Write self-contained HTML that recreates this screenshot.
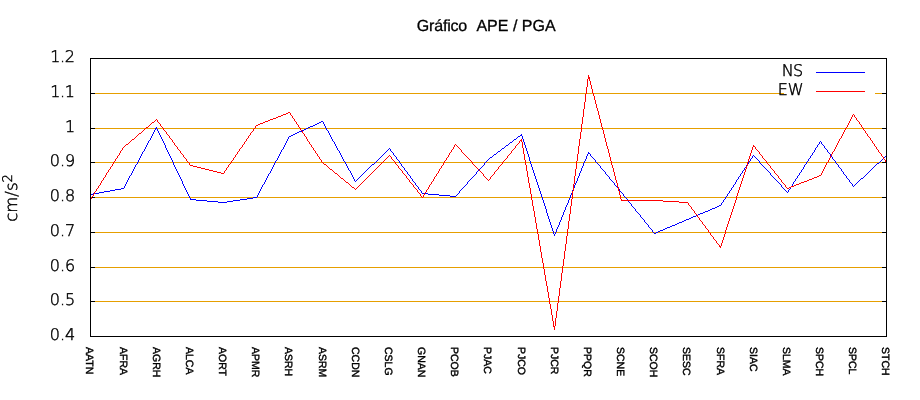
<!DOCTYPE html>
<html lang="pt"><head><meta charset="utf-8"><title>Gráfico APE / PGA</title>
<style>
html,body{margin:0;padding:0;background:#fff;}
body{width:920px;height:400px;overflow:hidden;}
svg{display:block;will-change:transform;transform:translateZ(0);}
text{text-rendering:geometricPrecision;}
.tk{font-family:"DejaVu Sans Light","DejaVu Sans",sans-serif;font-weight:200;font-size:16px;fill:#000;stroke:#000;stroke-width:0.45px;}
.ttl{font-family:"Liberation Sans",sans-serif;font-size:16px;fill:#000;stroke:#000;stroke-width:0.3px;white-space:pre;}
.xl{font-family:"Liberation Sans",sans-serif;font-size:10.5px;fill:#000;stroke:#000;stroke-width:0.4px;}
</style></head><body>
<svg width="920" height="400" viewBox="0 0 920 400">
<rect width="920" height="400" fill="#fff"/>
<g shape-rendering="crispEdges" fill="none" stroke-width="1">
<line x1="95" y1="301.5" x2="882" y2="301.5" stroke="#e69f00"/>
<line x1="95" y1="267.5" x2="882" y2="267.5" stroke="#e69f00"/>
<line x1="95" y1="232.5" x2="882" y2="232.5" stroke="#e69f00"/>
<line x1="95" y1="197.5" x2="882" y2="197.5" stroke="#e69f00"/>
<line x1="95" y1="162.5" x2="882" y2="162.5" stroke="#e69f00"/>
<line x1="95" y1="128.5" x2="882" y2="128.5" stroke="#e69f00"/>
<line x1="95" y1="93.5" x2="882" y2="93.5" stroke="#e69f00"/>
</g>
<rect x="784" y="62" width="91" height="40" fill="#fff"/>
<g shape-rendering="crispEdges" fill="none" stroke-width="1">
<line x1="90" y1="336.5" x2="95" y2="336.5" stroke="#000"/>
<line x1="882" y1="336.5" x2="886" y2="336.5" stroke="#000"/>
<line x1="90" y1="301.5" x2="95" y2="301.5" stroke="#000"/>
<line x1="882" y1="301.5" x2="886" y2="301.5" stroke="#000"/>
<line x1="90" y1="267.5" x2="95" y2="267.5" stroke="#000"/>
<line x1="882" y1="267.5" x2="886" y2="267.5" stroke="#000"/>
<line x1="90" y1="232.5" x2="95" y2="232.5" stroke="#000"/>
<line x1="882" y1="232.5" x2="886" y2="232.5" stroke="#000"/>
<line x1="90" y1="197.5" x2="95" y2="197.5" stroke="#000"/>
<line x1="882" y1="197.5" x2="886" y2="197.5" stroke="#000"/>
<line x1="90" y1="162.5" x2="95" y2="162.5" stroke="#000"/>
<line x1="882" y1="162.5" x2="886" y2="162.5" stroke="#000"/>
<line x1="90" y1="128.5" x2="95" y2="128.5" stroke="#000"/>
<line x1="882" y1="128.5" x2="886" y2="128.5" stroke="#000"/>
<line x1="90" y1="93.5" x2="95" y2="93.5" stroke="#000"/>
<line x1="882" y1="93.5" x2="886" y2="93.5" stroke="#000"/>
<line x1="90" y1="58.5" x2="95" y2="58.5" stroke="#000"/>
<line x1="882" y1="58.5" x2="886" y2="58.5" stroke="#000"/>
<path d="M321 121.5h2M319 122.5h2M323 122.5h1M317 123.5h2M323 123.5h1M315 124.5h2M324 124.5h1M313 125.5h2M324 125.5h1M310 126.5h3M325 126.5h1M156 127.5h1M308 127.5h2M325 127.5h1M155 128.5h2M306 128.5h2M326 128.5h1M155 129.5h1M157 129.5h1M304 129.5h2M326 129.5h1M154 130.5h1M157 130.5h1M302 130.5h2M327 130.5h1M154 131.5h1M158 131.5h1M299 131.5h3M328 131.5h1M153 132.5h1M158 132.5h1M297 132.5h2M328 132.5h1M153 133.5h1M159 133.5h1M295 133.5h2M329 133.5h1M152 134.5h1M159 134.5h1M293 134.5h2M329 134.5h1M521 134.5h1M152 135.5h1M160 135.5h1M291 135.5h2M330 135.5h1M520 135.5h2M151 136.5h1M160 136.5h1M289 136.5h2M330 136.5h1M518 136.5h2M522 136.5h1M151 137.5h1M161 137.5h1M288 137.5h1M331 137.5h1M517 137.5h1M522 137.5h1M150 138.5h1M161 138.5h1M288 138.5h1M331 138.5h1M516 138.5h1M522 138.5h1M150 139.5h1M162 139.5h1M287 139.5h1M332 139.5h1M514 139.5h2M523 139.5h1M149 140.5h1M162 140.5h1M287 140.5h1M332 140.5h1M513 140.5h1M523 140.5h1M148 141.5h1M163 141.5h1M286 141.5h1M333 141.5h1M512 141.5h1M523 141.5h1M820 141.5h1M148 142.5h1M163 142.5h1M286 142.5h1M334 142.5h1M510 142.5h2M524 142.5h1M819 142.5h1M821 142.5h1M147 143.5h1M164 143.5h1M285 143.5h1M334 143.5h1M509 143.5h1M524 143.5h1M819 143.5h1M821 143.5h1M147 144.5h1M164 144.5h1M285 144.5h1M335 144.5h1M508 144.5h1M524 144.5h1M818 144.5h1M822 144.5h1M146 145.5h1M165 145.5h1M284 145.5h1M335 145.5h1M506 145.5h2M525 145.5h1M817 145.5h1M823 145.5h1M146 146.5h1M165 146.5h1M284 146.5h1M336 146.5h1M505 146.5h1M525 146.5h1M817 146.5h1M824 146.5h1M145 147.5h1M165 147.5h1M283 147.5h1M336 147.5h1M504 147.5h1M525 147.5h1M816 147.5h1M824 147.5h1M145 148.5h1M166 148.5h1M283 148.5h1M337 148.5h1M389 148.5h1M502 148.5h2M526 148.5h1M815 148.5h1M825 148.5h1M144 149.5h1M166 149.5h1M282 149.5h1M337 149.5h1M388 149.5h1M390 149.5h1M501 149.5h1M526 149.5h1M815 149.5h1M826 149.5h1M144 150.5h1M167 150.5h1M281 150.5h1M338 150.5h1M387 150.5h1M390 150.5h1M500 150.5h1M526 150.5h1M814 150.5h1M827 150.5h1M143 151.5h1M167 151.5h1M281 151.5h1M339 151.5h1M386 151.5h1M391 151.5h1M498 151.5h2M527 151.5h1M814 151.5h1M827 151.5h1M142 152.5h1M168 152.5h1M280 152.5h1M339 152.5h1M385 152.5h1M392 152.5h1M497 152.5h1M527 152.5h1M588 152.5h1M813 152.5h1M828 152.5h1M142 153.5h1M168 153.5h1M280 153.5h1M340 153.5h1M384 153.5h1M393 153.5h1M496 153.5h1M527 153.5h1M588 153.5h2M812 153.5h1M829 153.5h1M141 154.5h1M169 154.5h1M279 154.5h1M340 154.5h1M383 154.5h1M393 154.5h1M494 154.5h2M528 154.5h1M587 154.5h1M590 154.5h1M812 154.5h1M830 154.5h1M141 155.5h1M169 155.5h1M279 155.5h1M341 155.5h1M382 155.5h1M394 155.5h1M493 155.5h1M528 155.5h1M587 155.5h1M590 155.5h1M753 155.5h1M811 155.5h1M830 155.5h1M886 155.5h1M140 156.5h1M170 156.5h1M278 156.5h1M341 156.5h1M381 156.5h1M395 156.5h1M492 156.5h1M528 156.5h1M586 156.5h1M591 156.5h1M752 156.5h1M754 156.5h1M810 156.5h1M831 156.5h1M885 156.5h1M140 157.5h1M170 157.5h1M278 157.5h1M342 157.5h1M380 157.5h1M396 157.5h1M490 157.5h2M529 157.5h1M586 157.5h1M592 157.5h1M752 157.5h1M755 157.5h1M810 157.5h1M832 157.5h1M884 157.5h1M139 158.5h1M171 158.5h1M277 158.5h1M342 158.5h1M379 158.5h1M396 158.5h1M489 158.5h1M529 158.5h1M586 158.5h1M593 158.5h1M751 158.5h1M756 158.5h1M809 158.5h1M832 158.5h1M883 158.5h1M139 159.5h1M171 159.5h1M277 159.5h1M343 159.5h1M378 159.5h1M397 159.5h1M488 159.5h1M529 159.5h1M585 159.5h1M594 159.5h1M750 159.5h1M757 159.5h1M808 159.5h1M833 159.5h1M882 159.5h1M138 160.5h1M172 160.5h1M276 160.5h1M343 160.5h1M377 160.5h1M398 160.5h1M487 160.5h1M529 160.5h1M585 160.5h1M595 160.5h1M750 160.5h1M758 160.5h1M808 160.5h1M834 160.5h1M881 160.5h1M138 161.5h1M172 161.5h1M275 161.5h1M344 161.5h1M376 161.5h1M399 161.5h1M486 161.5h1M530 161.5h1M584 161.5h1M595 161.5h1M749 161.5h1M759 161.5h1M807 161.5h1M835 161.5h1M880 161.5h1M137 162.5h1M173 162.5h1M275 162.5h1M345 162.5h1M375 162.5h1M399 162.5h1M485 162.5h1M530 162.5h1M584 162.5h1M596 162.5h1M748 162.5h1M759 162.5h1M806 162.5h1M835 162.5h1M879 162.5h1M137 163.5h1M173 163.5h1M274 163.5h1M345 163.5h1M374 163.5h1M400 163.5h1M484 163.5h1M530 163.5h1M583 163.5h1M597 163.5h1M748 163.5h1M760 163.5h1M806 163.5h1M836 163.5h1M877 163.5h2M136 164.5h1M173 164.5h1M274 164.5h1M346 164.5h1M372 164.5h2M401 164.5h1M484 164.5h1M531 164.5h1M583 164.5h1M598 164.5h1M747 164.5h1M761 164.5h1M805 164.5h1M837 164.5h1M876 164.5h1M135 165.5h1M174 165.5h1M273 165.5h1M346 165.5h1M371 165.5h1M401 165.5h1M483 165.5h1M531 165.5h1M583 165.5h1M599 165.5h1M746 165.5h1M762 165.5h1M804 165.5h1M838 165.5h1M875 165.5h1M135 166.5h1M174 166.5h1M273 166.5h1M347 166.5h1M370 166.5h1M402 166.5h1M482 166.5h1M531 166.5h1M582 166.5h1M600 166.5h1M746 166.5h1M763 166.5h1M804 166.5h1M838 166.5h1M874 166.5h1M134 167.5h1M175 167.5h1M272 167.5h1M347 167.5h1M369 167.5h1M403 167.5h1M481 167.5h1M532 167.5h1M582 167.5h1M600 167.5h1M745 167.5h1M764 167.5h1M803 167.5h1M839 167.5h1M873 167.5h1M134 168.5h1M175 168.5h1M272 168.5h1M348 168.5h1M368 168.5h1M404 168.5h1M480 168.5h1M532 168.5h1M581 168.5h1M601 168.5h1M744 168.5h1M765 168.5h1M803 168.5h1M840 168.5h1M872 168.5h1M133 169.5h1M176 169.5h1M271 169.5h1M348 169.5h1M367 169.5h1M404 169.5h1M479 169.5h1M532 169.5h1M581 169.5h1M602 169.5h1M744 169.5h1M766 169.5h1M802 169.5h1M841 169.5h1M871 169.5h1M133 170.5h1M176 170.5h1M271 170.5h1M349 170.5h1M366 170.5h1M405 170.5h1M478 170.5h1M533 170.5h1M581 170.5h1M603 170.5h1M743 170.5h1M767 170.5h1M801 170.5h1M841 170.5h1M870 170.5h1M132 171.5h1M177 171.5h1M270 171.5h1M350 171.5h1M365 171.5h1M406 171.5h1M477 171.5h1M533 171.5h1M580 171.5h1M604 171.5h1M742 171.5h1M768 171.5h1M801 171.5h1M842 171.5h1M869 171.5h1M132 172.5h1M177 172.5h1M270 172.5h1M350 172.5h1M364 172.5h1M407 172.5h1M476 172.5h1M533 172.5h1M580 172.5h1M605 172.5h1M742 172.5h1M769 172.5h1M800 172.5h1M843 172.5h1M868 172.5h1M131 173.5h1M178 173.5h1M269 173.5h1M351 173.5h1M363 173.5h1M407 173.5h1M476 173.5h1M534 173.5h1M579 173.5h1M605 173.5h1M741 173.5h1M770 173.5h1M799 173.5h1M843 173.5h1M867 173.5h1M131 174.5h1M178 174.5h1M268 174.5h1M351 174.5h1M362 174.5h1M408 174.5h1M475 174.5h1M534 174.5h1M579 174.5h1M606 174.5h1M740 174.5h1M770 174.5h1M799 174.5h1M844 174.5h1M866 174.5h1M130 175.5h1M179 175.5h1M268 175.5h1M352 175.5h1M361 175.5h1M409 175.5h1M474 175.5h1M534 175.5h1M579 175.5h1M607 175.5h1M740 175.5h1M771 175.5h1M798 175.5h1M845 175.5h1M865 175.5h1M129 176.5h1M179 176.5h1M267 176.5h1M352 176.5h1M360 176.5h1M410 176.5h1M473 176.5h1M535 176.5h1M578 176.5h1M608 176.5h1M739 176.5h1M772 176.5h1M797 176.5h1M846 176.5h1M864 176.5h1M129 177.5h1M180 177.5h1M267 177.5h1M353 177.5h1M359 177.5h1M410 177.5h1M472 177.5h1M535 177.5h1M578 177.5h1M609 177.5h1M738 177.5h1M773 177.5h1M797 177.5h1M846 177.5h1M863 177.5h1M128 178.5h1M180 178.5h1M266 178.5h1M353 178.5h1M358 178.5h1M411 178.5h1M471 178.5h1M535 178.5h1M577 178.5h1M609 178.5h1M738 178.5h1M774 178.5h1M796 178.5h1M847 178.5h1M861 178.5h2M128 179.5h1M181 179.5h1M266 179.5h1M354 179.5h1M357 179.5h1M412 179.5h1M470 179.5h1M536 179.5h1M577 179.5h1M610 179.5h1M737 179.5h1M775 179.5h1M795 179.5h1M848 179.5h1M860 179.5h1M127 180.5h1M181 180.5h1M265 180.5h1M354 180.5h1M356 180.5h1M412 180.5h1M469 180.5h1M536 180.5h1M577 180.5h1M611 180.5h1M736 180.5h1M776 180.5h1M795 180.5h1M849 180.5h1M859 180.5h1M127 181.5h1M182 181.5h1M265 181.5h1M355 181.5h1M413 181.5h1M468 181.5h1M536 181.5h1M576 181.5h1M612 181.5h1M736 181.5h1M777 181.5h1M794 181.5h1M849 181.5h1M858 181.5h1M126 182.5h1M182 182.5h1M264 182.5h1M414 182.5h1M467 182.5h1M537 182.5h1M576 182.5h1M613 182.5h1M735 182.5h1M778 182.5h1M793 182.5h1M850 182.5h1M857 182.5h1M126 183.5h1M182 183.5h1M264 183.5h1M415 183.5h1M467 183.5h1M537 183.5h1M575 183.5h1M614 183.5h1M735 183.5h1M779 183.5h1M793 183.5h1M851 183.5h1M856 183.5h1M125 184.5h1M183 184.5h1M263 184.5h1M415 184.5h1M466 184.5h1M537 184.5h1M575 184.5h1M614 184.5h1M734 184.5h1M780 184.5h1M792 184.5h1M852 184.5h1M855 184.5h1M125 185.5h1M183 185.5h1M262 185.5h1M416 185.5h1M465 185.5h1M538 185.5h1M574 185.5h1M615 185.5h1M733 185.5h1M781 185.5h1M792 185.5h1M852 185.5h1M854 185.5h1M124 186.5h1M184 186.5h1M262 186.5h1M417 186.5h1M464 186.5h1M538 186.5h1M574 186.5h1M616 186.5h1M733 186.5h1M781 186.5h1M791 186.5h1M853 186.5h1M124 187.5h1M184 187.5h1M261 187.5h1M418 187.5h1M463 187.5h1M538 187.5h1M574 187.5h1M617 187.5h1M732 187.5h1M782 187.5h1M790 187.5h1M121 188.5h3M185 188.5h1M261 188.5h1M418 188.5h1M462 188.5h1M539 188.5h1M573 188.5h1M618 188.5h1M731 188.5h1M783 188.5h1M790 188.5h1M115 189.5h6M185 189.5h1M260 189.5h1M419 189.5h1M461 189.5h1M539 189.5h1M573 189.5h1M619 189.5h1M731 189.5h1M784 189.5h1M789 189.5h1M110 190.5h5M186 190.5h1M260 190.5h1M420 190.5h1M460 190.5h1M539 190.5h1M572 190.5h1M619 190.5h1M730 190.5h1M785 190.5h1M788 190.5h1M104 191.5h6M186 191.5h1M259 191.5h1M421 191.5h1M459 191.5h1M540 191.5h1M572 191.5h1M620 191.5h1M729 191.5h1M786 191.5h1M788 191.5h1M99 192.5h5M187 192.5h1M259 192.5h1M421 192.5h1M459 192.5h1M540 192.5h1M572 192.5h1M621 192.5h1M729 192.5h1M787 192.5h1M93 193.5h6M187 193.5h1M258 193.5h1M422 193.5h6M458 193.5h1M540 193.5h1M571 193.5h1M622 193.5h1M728 193.5h1M90 194.5h3M188 194.5h1M258 194.5h1M428 194.5h11M457 194.5h1M541 194.5h1M571 194.5h1M623 194.5h1M727 194.5h1M188 195.5h1M257 195.5h1M439 195.5h11M456 195.5h1M541 195.5h1M570 195.5h1M623 195.5h1M727 195.5h1M189 196.5h1M257 196.5h1M450 196.5h6M541 196.5h1M570 196.5h1M624 196.5h1M726 196.5h1M189 197.5h1M253 197.5h4M542 197.5h1M570 197.5h1M625 197.5h1M725 197.5h1M190 198.5h1M247 198.5h6M542 198.5h1M569 198.5h1M626 198.5h1M725 198.5h1M190 199.5h6M240 199.5h7M542 199.5h1M569 199.5h1M627 199.5h1M724 199.5h1M196 200.5h11M233 200.5h7M543 200.5h1M568 200.5h1M627 200.5h1M723 200.5h1M207 201.5h11M227 201.5h6M543 201.5h1M568 201.5h1M628 201.5h1M723 201.5h1M218 202.5h9M543 202.5h1M568 202.5h1M629 202.5h1M722 202.5h1M544 203.5h1M567 203.5h1M630 203.5h1M721 203.5h1M544 204.5h1M567 204.5h1M631 204.5h1M721 204.5h1M544 205.5h1M566 205.5h1M631 205.5h1M719 205.5h2M545 206.5h1M566 206.5h1M632 206.5h1M717 206.5h2M545 207.5h1M565 207.5h1M633 207.5h1M715 207.5h2M545 208.5h1M565 208.5h1M634 208.5h1M712 208.5h3M546 209.5h1M565 209.5h1M635 209.5h1M710 209.5h2M546 210.5h1M564 210.5h1M635 210.5h1M708 210.5h2M546 211.5h1M564 211.5h1M636 211.5h1M705 211.5h3M546 212.5h1M563 212.5h1M637 212.5h1M703 212.5h2M547 213.5h1M563 213.5h1M638 213.5h1M700 213.5h3M547 214.5h1M563 214.5h1M639 214.5h1M698 214.5h2M547 215.5h1M562 215.5h1M640 215.5h1M696 215.5h2M548 216.5h1M562 216.5h1M640 216.5h1M693 216.5h3M548 217.5h1M561 217.5h1M641 217.5h1M691 217.5h2M548 218.5h1M561 218.5h1M642 218.5h1M689 218.5h2M549 219.5h1M561 219.5h1M643 219.5h1M686 219.5h3M549 220.5h1M560 220.5h1M644 220.5h1M684 220.5h2M549 221.5h1M560 221.5h1M644 221.5h1M682 221.5h2M550 222.5h1M559 222.5h1M645 222.5h1M679 222.5h3M550 223.5h1M559 223.5h1M646 223.5h1M677 223.5h2M550 224.5h1M559 224.5h1M647 224.5h1M675 224.5h2M551 225.5h1M558 225.5h1M648 225.5h1M672 225.5h3M551 226.5h1M558 226.5h1M648 226.5h1M670 226.5h2M551 227.5h1M557 227.5h1M649 227.5h1M667 227.5h3M552 228.5h1M557 228.5h1M650 228.5h1M665 228.5h2M552 229.5h1M556 229.5h1M651 229.5h1M663 229.5h2M552 230.5h1M556 230.5h1M652 230.5h1M660 230.5h3M553 231.5h1M556 231.5h1M652 231.5h1M658 231.5h2M553 232.5h1M555 232.5h1M653 232.5h1M656 232.5h2M553 233.5h1M555 233.5h1M654 233.5h2M554 234.5h1M554 235.5h1" stroke="#0000ff"/>
<path d="M588 75.5h1M588 76.5h1M588 77.5h2M588 78.5h2M587 79.5h1M589 79.5h1M587 80.5h1M589 80.5h1M587 81.5h1M590 81.5h1M587 82.5h1M590 82.5h1M587 83.5h1M590 83.5h1M587 84.5h1M590 84.5h1M587 85.5h1M591 85.5h1M587 86.5h1M591 86.5h1M586 87.5h1M591 87.5h1M586 88.5h1M591 88.5h1M586 89.5h1M592 89.5h1M586 90.5h1M592 90.5h1M586 91.5h1M592 91.5h1M586 92.5h1M592 92.5h1M586 93.5h1M593 93.5h1M585 94.5h1M593 94.5h1M585 95.5h1M593 95.5h1M585 96.5h1M594 96.5h1M585 97.5h1M594 97.5h1M585 98.5h1M594 98.5h1M585 99.5h1M594 99.5h1M585 100.5h1M595 100.5h1M585 101.5h1M595 101.5h1M584 102.5h1M595 102.5h1M584 103.5h1M595 103.5h1M584 104.5h1M596 104.5h1M584 105.5h1M596 105.5h1M584 106.5h1M596 106.5h1M584 107.5h1M596 107.5h1M584 108.5h1M597 108.5h1M583 109.5h1M597 109.5h1M583 110.5h1M597 110.5h1M583 111.5h1M598 111.5h1M288 112.5h2M583 112.5h1M598 112.5h1M286 113.5h2M290 113.5h1M583 113.5h1M598 113.5h1M283 114.5h3M290 114.5h1M583 114.5h1M598 114.5h1M853 114.5h1M281 115.5h2M291 115.5h1M583 115.5h1M599 115.5h1M852 115.5h1M854 115.5h1M278 116.5h3M292 116.5h1M583 116.5h1M599 116.5h1M852 116.5h1M854 116.5h1M276 117.5h2M292 117.5h1M582 117.5h1M599 117.5h1M851 117.5h1M855 117.5h1M273 118.5h3M293 118.5h1M582 118.5h1M599 118.5h1M851 118.5h1M856 118.5h1M156 119.5h1M270 119.5h3M294 119.5h1M582 119.5h1M600 119.5h1M850 119.5h1M856 119.5h1M155 120.5h1M157 120.5h1M268 120.5h2M294 120.5h1M582 120.5h1M600 120.5h1M850 120.5h1M857 120.5h1M154 121.5h1M157 121.5h1M265 121.5h3M295 121.5h1M582 121.5h1M600 121.5h1M849 121.5h1M858 121.5h1M152 122.5h2M158 122.5h1M263 122.5h2M296 122.5h1M582 122.5h1M600 122.5h1M849 122.5h1M859 122.5h1M151 123.5h1M159 123.5h1M260 123.5h3M296 123.5h1M582 123.5h1M601 123.5h1M848 123.5h1M859 123.5h1M150 124.5h1M160 124.5h1M258 124.5h2M297 124.5h1M581 124.5h1M601 124.5h1M848 124.5h1M860 124.5h1M149 125.5h1M160 125.5h1M256 125.5h2M298 125.5h1M581 125.5h1M601 125.5h1M847 125.5h1M861 125.5h1M148 126.5h1M161 126.5h1M255 126.5h1M298 126.5h1M581 126.5h1M601 126.5h1M847 126.5h1M861 126.5h1M146 127.5h2M162 127.5h1M255 127.5h1M299 127.5h1M581 127.5h1M602 127.5h1M846 127.5h1M862 127.5h1M145 128.5h1M163 128.5h1M254 128.5h1M300 128.5h1M581 128.5h1M602 128.5h1M845 128.5h1M863 128.5h1M144 129.5h1M163 129.5h1M253 129.5h1M300 129.5h1M581 129.5h1M602 129.5h1M845 129.5h1M863 129.5h1M143 130.5h1M164 130.5h1M253 130.5h1M301 130.5h1M581 130.5h1M603 130.5h1M844 130.5h1M864 130.5h1M142 131.5h1M165 131.5h1M252 131.5h1M302 131.5h1M581 131.5h1M603 131.5h1M844 131.5h1M865 131.5h1M141 132.5h1M166 132.5h1M251 132.5h1M302 132.5h1M580 132.5h1M603 132.5h1M843 132.5h1M865 132.5h1M139 133.5h2M166 133.5h1M250 133.5h1M303 133.5h1M580 133.5h1M603 133.5h1M843 133.5h1M866 133.5h1M138 134.5h1M167 134.5h1M250 134.5h1M304 134.5h1M580 134.5h1M604 134.5h1M842 134.5h1M867 134.5h1M137 135.5h1M168 135.5h1M249 135.5h1M304 135.5h1M580 135.5h1M604 135.5h1M842 135.5h1M867 135.5h1M136 136.5h1M169 136.5h1M248 136.5h1M305 136.5h1M580 136.5h1M604 136.5h1M841 136.5h1M868 136.5h1M135 137.5h1M169 137.5h1M248 137.5h1M306 137.5h1M580 137.5h1M604 137.5h1M841 137.5h1M869 137.5h1M134 138.5h1M170 138.5h1M247 138.5h1M306 138.5h1M580 138.5h1M605 138.5h1M840 138.5h1M870 138.5h1M132 139.5h2M171 139.5h1M246 139.5h1M307 139.5h1M521 139.5h1M579 139.5h1M605 139.5h1M839 139.5h1M870 139.5h1M131 140.5h1M172 140.5h1M246 140.5h1M307 140.5h1M520 140.5h2M579 140.5h1M605 140.5h1M839 140.5h1M871 140.5h1M130 141.5h1M172 141.5h1M245 141.5h1M308 141.5h1M519 141.5h1M521 141.5h1M579 141.5h1M605 141.5h1M838 141.5h1M872 141.5h1M129 142.5h1M173 142.5h1M244 142.5h1M309 142.5h1M519 142.5h1M522 142.5h1M579 142.5h1M606 142.5h1M838 142.5h1M872 142.5h1M128 143.5h1M174 143.5h1M244 143.5h1M309 143.5h1M518 143.5h1M522 143.5h1M579 143.5h1M606 143.5h1M837 143.5h1M873 143.5h1M126 144.5h2M174 144.5h1M243 144.5h1M310 144.5h1M455 144.5h1M517 144.5h1M522 144.5h1M579 144.5h1M606 144.5h1M837 144.5h1M874 144.5h1M125 145.5h1M175 145.5h1M242 145.5h1M311 145.5h1M454 145.5h1M456 145.5h1M516 145.5h1M522 145.5h1M579 145.5h1M606 145.5h1M753 145.5h1M836 145.5h1M874 145.5h1M124 146.5h1M176 146.5h1M242 146.5h1M311 146.5h1M454 146.5h1M457 146.5h1M515 146.5h1M522 146.5h1M578 146.5h1M607 146.5h1M753 146.5h2M836 146.5h1M875 146.5h1M123 147.5h1M177 147.5h1M241 147.5h1M312 147.5h1M453 147.5h1M458 147.5h1M515 147.5h1M522 147.5h1M578 147.5h1M607 147.5h1M752 147.5h1M755 147.5h1M835 147.5h1M876 147.5h1M122 148.5h1M177 148.5h1M240 148.5h1M313 148.5h1M453 148.5h1M459 148.5h1M514 148.5h1M523 148.5h1M578 148.5h1M607 148.5h1M752 148.5h1M755 148.5h1M835 148.5h1M876 148.5h1M122 149.5h1M178 149.5h1M239 149.5h1M313 149.5h1M452 149.5h1M460 149.5h1M513 149.5h1M523 149.5h1M578 149.5h1M608 149.5h1M752 149.5h1M756 149.5h1M834 149.5h1M877 149.5h1M121 150.5h1M179 150.5h1M239 150.5h1M314 150.5h1M451 150.5h1M461 150.5h1M512 150.5h1M523 150.5h1M578 150.5h1M608 150.5h1M751 150.5h1M757 150.5h1M834 150.5h1M878 150.5h1M120 151.5h1M180 151.5h1M238 151.5h1M315 151.5h1M451 151.5h1M461 151.5h1M511 151.5h1M523 151.5h1M578 151.5h1M608 151.5h1M751 151.5h1M758 151.5h1M833 151.5h1M878 151.5h1M120 152.5h1M180 152.5h1M237 152.5h1M315 152.5h1M450 152.5h1M462 152.5h1M511 152.5h1M523 152.5h1M578 152.5h1M608 152.5h1M751 152.5h1M759 152.5h1M832 152.5h1M879 152.5h1M119 153.5h1M181 153.5h1M237 153.5h1M316 153.5h1M449 153.5h1M463 153.5h1M510 153.5h1M523 153.5h1M578 153.5h1M609 153.5h1M750 153.5h1M759 153.5h1M832 153.5h1M880 153.5h1M119 154.5h1M182 154.5h1M236 154.5h1M317 154.5h1M449 154.5h1M464 154.5h1M509 154.5h1M524 154.5h1M577 154.5h1M609 154.5h1M750 154.5h1M760 154.5h1M831 154.5h1M881 154.5h1M118 155.5h1M183 155.5h1M235 155.5h1M317 155.5h1M389 155.5h1M448 155.5h1M465 155.5h1M508 155.5h1M524 155.5h1M577 155.5h1M609 155.5h1M750 155.5h1M761 155.5h1M831 155.5h1M881 155.5h1M117 156.5h1M183 156.5h1M235 156.5h1M318 156.5h1M388 156.5h1M390 156.5h1M448 156.5h1M466 156.5h1M507 156.5h1M524 156.5h1M577 156.5h1M609 156.5h1M749 156.5h1M762 156.5h1M830 156.5h1M882 156.5h1M117 157.5h1M184 157.5h1M234 157.5h1M319 157.5h1M387 157.5h1M391 157.5h1M447 157.5h1M467 157.5h1M507 157.5h1M524 157.5h1M577 157.5h1M610 157.5h1M749 157.5h1M762 157.5h1M830 157.5h1M883 157.5h1M116 158.5h1M185 158.5h1M233 158.5h1M319 158.5h1M386 158.5h1M391 158.5h1M446 158.5h1M468 158.5h1M506 158.5h1M524 158.5h1M577 158.5h1M610 158.5h1M749 158.5h1M763 158.5h1M829 158.5h1M883 158.5h1M115 159.5h1M186 159.5h1M233 159.5h1M320 159.5h1M385 159.5h1M392 159.5h1M446 159.5h1M469 159.5h1M505 159.5h1M524 159.5h1M577 159.5h1M610 159.5h1M748 159.5h1M764 159.5h1M829 159.5h1M884 159.5h1M115 160.5h1M186 160.5h1M232 160.5h1M321 160.5h1M384 160.5h1M393 160.5h1M445 160.5h1M470 160.5h1M504 160.5h1M525 160.5h1M577 160.5h1M610 160.5h1M748 160.5h1M765 160.5h1M828 160.5h1M885 160.5h1M114 161.5h1M187 161.5h1M231 161.5h1M321 161.5h1M383 161.5h1M394 161.5h1M444 161.5h1M471 161.5h1M503 161.5h1M525 161.5h1M576 161.5h1M611 161.5h1M748 161.5h1M766 161.5h1M828 161.5h1M885 161.5h1M113 162.5h1M188 162.5h1M231 162.5h1M322 162.5h1M382 162.5h1M395 162.5h1M444 162.5h1M472 162.5h1M502 162.5h1M525 162.5h1M576 162.5h1M611 162.5h1M747 162.5h1M766 162.5h1M827 162.5h1M886 162.5h1M113 163.5h1M189 163.5h1M230 163.5h1M323 163.5h1M381 163.5h1M395 163.5h1M443 163.5h1M472 163.5h1M502 163.5h1M525 163.5h1M576 163.5h1M611 163.5h1M747 163.5h1M767 163.5h1M826 163.5h1M112 164.5h1M189 164.5h1M229 164.5h1M324 164.5h2M380 164.5h1M396 164.5h1M443 164.5h1M473 164.5h1M501 164.5h1M525 164.5h1M576 164.5h1M611 164.5h1M747 164.5h1M768 164.5h1M826 164.5h1M112 165.5h1M190 165.5h3M228 165.5h1M326 165.5h1M379 165.5h1M397 165.5h1M442 165.5h1M474 165.5h1M500 165.5h1M526 165.5h1M576 165.5h1M612 165.5h1M747 165.5h1M769 165.5h1M825 165.5h1M111 166.5h1M193 166.5h4M228 166.5h1M327 166.5h1M378 166.5h1M398 166.5h1M441 166.5h1M475 166.5h1M499 166.5h1M526 166.5h1M576 166.5h1M612 166.5h1M746 166.5h1M770 166.5h1M825 166.5h1M110 167.5h1M197 167.5h4M227 167.5h1M328 167.5h1M377 167.5h1M398 167.5h1M441 167.5h1M476 167.5h1M498 167.5h1M526 167.5h1M576 167.5h1M612 167.5h1M746 167.5h1M770 167.5h1M824 167.5h1M110 168.5h1M201 168.5h4M226 168.5h1M329 168.5h1M376 168.5h1M399 168.5h1M440 168.5h1M477 168.5h1M498 168.5h1M526 168.5h1M576 168.5h1M613 168.5h1M746 168.5h1M771 168.5h1M824 168.5h1M109 169.5h1M205 169.5h4M226 169.5h1M330 169.5h2M375 169.5h1M400 169.5h1M439 169.5h1M478 169.5h1M497 169.5h1M526 169.5h1M575 169.5h1M613 169.5h1M745 169.5h1M772 169.5h1M823 169.5h1M108 170.5h1M209 170.5h4M225 170.5h1M332 170.5h1M374 170.5h1M401 170.5h1M439 170.5h1M479 170.5h1M496 170.5h1M526 170.5h1M575 170.5h1M613 170.5h1M745 170.5h1M773 170.5h1M823 170.5h1M108 171.5h1M213 171.5h4M224 171.5h1M333 171.5h1M373 171.5h1M402 171.5h1M438 171.5h1M480 171.5h1M495 171.5h1M527 171.5h1M575 171.5h1M613 171.5h1M745 171.5h1M774 171.5h1M822 171.5h1M107 172.5h1M217 172.5h4M224 172.5h1M334 172.5h1M372 172.5h1M402 172.5h1M438 172.5h1M481 172.5h1M494 172.5h1M527 172.5h1M575 172.5h1M614 172.5h1M744 172.5h1M774 172.5h1M822 172.5h1M106 173.5h1M221 173.5h3M335 173.5h2M371 173.5h1M403 173.5h1M437 173.5h1M482 173.5h1M494 173.5h1M527 173.5h1M575 173.5h1M614 173.5h1M744 173.5h1M775 173.5h1M821 173.5h1M106 174.5h1M337 174.5h1M370 174.5h1M404 174.5h1M436 174.5h1M483 174.5h1M493 174.5h1M527 174.5h1M575 174.5h1M614 174.5h1M744 174.5h1M776 174.5h1M821 174.5h1M105 175.5h1M338 175.5h1M369 175.5h1M405 175.5h1M436 175.5h1M483 175.5h1M492 175.5h1M527 175.5h1M575 175.5h1M614 175.5h1M743 175.5h1M777 175.5h1M819 175.5h2M105 176.5h1M339 176.5h1M368 176.5h1M406 176.5h1M435 176.5h1M484 176.5h1M491 176.5h1M527 176.5h1M574 176.5h1M615 176.5h1M743 176.5h1M778 176.5h1M817 176.5h2M104 177.5h1M340 177.5h1M367 177.5h1M406 177.5h1M434 177.5h1M485 177.5h1M490 177.5h1M528 177.5h1M574 177.5h1M615 177.5h1M743 177.5h1M778 177.5h1M814 177.5h3M103 178.5h1M341 178.5h2M366 178.5h1M407 178.5h1M434 178.5h1M486 178.5h1M490 178.5h1M528 178.5h1M574 178.5h1M615 178.5h1M742 178.5h1M779 178.5h1M812 178.5h2M103 179.5h1M343 179.5h1M365 179.5h1M408 179.5h1M433 179.5h1M487 179.5h1M489 179.5h1M528 179.5h1M574 179.5h1M615 179.5h1M742 179.5h1M780 179.5h1M809 179.5h3M102 180.5h1M344 180.5h1M364 180.5h1M409 180.5h1M433 180.5h1M488 180.5h1M528 180.5h1M574 180.5h1M616 180.5h1M742 180.5h1M781 180.5h1M807 180.5h2M101 181.5h1M345 181.5h1M363 181.5h1M409 181.5h1M432 181.5h1M528 181.5h1M574 181.5h1M616 181.5h1M741 181.5h1M781 181.5h1M804 181.5h3M101 182.5h1M346 182.5h2M362 182.5h1M410 182.5h1M431 182.5h1M528 182.5h1M574 182.5h1M616 182.5h1M741 182.5h1M782 182.5h1M801 182.5h3M100 183.5h1M348 183.5h1M361 183.5h1M411 183.5h1M431 183.5h1M529 183.5h1M574 183.5h1M617 183.5h1M741 183.5h1M783 183.5h1M799 183.5h2M100 184.5h1M349 184.5h1M360 184.5h1M412 184.5h1M430 184.5h1M529 184.5h1M573 184.5h1M617 184.5h1M740 184.5h1M784 184.5h1M796 184.5h3M99 185.5h1M350 185.5h1M359 185.5h1M413 185.5h1M429 185.5h1M529 185.5h1M573 185.5h1M617 185.5h1M740 185.5h1M785 185.5h1M794 185.5h2M98 186.5h1M351 186.5h1M358 186.5h1M413 186.5h1M429 186.5h1M529 186.5h1M573 186.5h1M617 186.5h1M740 186.5h1M785 186.5h1M791 186.5h3M98 187.5h1M352 187.5h2M357 187.5h1M414 187.5h1M428 187.5h1M529 187.5h1M573 187.5h1M618 187.5h1M739 187.5h1M786 187.5h1M789 187.5h2M97 188.5h1M354 188.5h1M356 188.5h1M415 188.5h1M428 188.5h1M530 188.5h1M573 188.5h1M618 188.5h1M739 188.5h1M787 188.5h2M96 189.5h1M355 189.5h1M416 189.5h1M427 189.5h1M530 189.5h1M573 189.5h1M618 189.5h1M739 189.5h1M96 190.5h1M417 190.5h1M426 190.5h1M530 190.5h1M573 190.5h1M618 190.5h1M738 190.5h1M95 191.5h1M417 191.5h1M426 191.5h1M530 191.5h1M572 191.5h1M619 191.5h1M738 191.5h1M94 192.5h1M418 192.5h1M425 192.5h1M530 192.5h1M572 192.5h1M619 192.5h1M738 192.5h1M94 193.5h1M419 193.5h1M424 193.5h1M530 193.5h1M572 193.5h1M619 193.5h1M737 193.5h1M93 194.5h1M420 194.5h1M424 194.5h1M531 194.5h1M572 194.5h1M619 194.5h1M737 194.5h1M93 195.5h1M420 195.5h1M423 195.5h1M531 195.5h1M572 195.5h1M620 195.5h1M737 195.5h1M92 196.5h1M421 196.5h1M423 196.5h1M531 196.5h1M572 196.5h1M620 196.5h1M736 196.5h1M91 197.5h1M422 197.5h1M531 197.5h1M572 197.5h1M620 197.5h1M736 197.5h1M91 198.5h1M531 198.5h1M572 198.5h1M620 198.5h1M736 198.5h1M90 199.5h1M531 199.5h1M571 199.5h1M621 199.5h1M736 199.5h1M532 200.5h1M571 200.5h1M621 200.5h42M735 200.5h1M532 201.5h1M571 201.5h1M663 201.5h16M735 201.5h1M532 202.5h1M571 202.5h1M679 202.5h9M735 202.5h1M532 203.5h1M571 203.5h1M688 203.5h1M734 203.5h1M532 204.5h1M571 204.5h1M688 204.5h1M734 204.5h1M532 205.5h1M571 205.5h1M689 205.5h1M734 205.5h1M533 206.5h1M570 206.5h1M690 206.5h1M733 206.5h1M533 207.5h1M570 207.5h1M691 207.5h1M733 207.5h1M533 208.5h1M570 208.5h1M691 208.5h1M733 208.5h1M533 209.5h1M570 209.5h1M692 209.5h1M732 209.5h1M533 210.5h1M570 210.5h1M693 210.5h1M732 210.5h1M534 211.5h1M570 211.5h1M694 211.5h1M732 211.5h1M534 212.5h1M570 212.5h1M694 212.5h1M731 212.5h1M534 213.5h1M570 213.5h1M695 213.5h1M731 213.5h1M534 214.5h1M569 214.5h1M696 214.5h1M731 214.5h1M534 215.5h1M569 215.5h1M697 215.5h1M730 215.5h1M534 216.5h1M569 216.5h1M697 216.5h1M730 216.5h1M535 217.5h1M569 217.5h1M698 217.5h1M730 217.5h1M535 218.5h1M569 218.5h1M699 218.5h1M729 218.5h1M535 219.5h1M569 219.5h1M699 219.5h1M729 219.5h1M535 220.5h1M569 220.5h1M700 220.5h1M729 220.5h1M535 221.5h1M568 221.5h1M701 221.5h1M728 221.5h1M535 222.5h1M568 222.5h1M702 222.5h1M728 222.5h1M536 223.5h1M568 223.5h1M702 223.5h1M728 223.5h1M536 224.5h1M568 224.5h1M703 224.5h1M727 224.5h1M536 225.5h1M568 225.5h1M704 225.5h1M727 225.5h1M536 226.5h1M568 226.5h1M705 226.5h1M727 226.5h1M536 227.5h1M568 227.5h1M705 227.5h1M726 227.5h1M536 228.5h1M568 228.5h1M706 228.5h1M726 228.5h1M537 229.5h1M567 229.5h1M707 229.5h1M726 229.5h1M537 230.5h1M567 230.5h1M708 230.5h1M725 230.5h1M537 231.5h1M567 231.5h1M708 231.5h1M725 231.5h1M537 232.5h1M567 232.5h1M709 232.5h1M725 232.5h1M537 233.5h1M567 233.5h1M710 233.5h1M725 233.5h1M538 234.5h1M567 234.5h1M710 234.5h1M724 234.5h1M538 235.5h1M567 235.5h1M711 235.5h1M724 235.5h1M538 236.5h1M566 236.5h1M712 236.5h1M724 236.5h1M538 237.5h1M566 237.5h1M713 237.5h1M723 237.5h1M538 238.5h1M566 238.5h1M713 238.5h1M723 238.5h1M538 239.5h1M566 239.5h1M714 239.5h1M723 239.5h1M539 240.5h1M566 240.5h1M715 240.5h1M722 240.5h1M539 241.5h1M566 241.5h1M716 241.5h1M722 241.5h1M539 242.5h1M566 242.5h1M716 242.5h1M722 242.5h1M539 243.5h1M566 243.5h1M717 243.5h1M721 243.5h1M539 244.5h1M565 244.5h1M718 244.5h1M721 244.5h1M539 245.5h1M565 245.5h1M719 245.5h1M721 245.5h1M540 246.5h1M565 246.5h1M719 246.5h2M540 247.5h1M565 247.5h1M720 247.5h1M540 248.5h1M565 248.5h1M540 249.5h1M565 249.5h1M540 250.5h1M565 250.5h1M540 251.5h1M564 251.5h1M541 252.5h1M564 252.5h1M541 253.5h1M564 253.5h1M541 254.5h1M564 254.5h1M541 255.5h1M564 255.5h1M541 256.5h1M564 256.5h1M541 257.5h1M564 257.5h1M542 258.5h1M564 258.5h1M542 259.5h1M563 259.5h1M542 260.5h1M563 260.5h1M542 261.5h1M563 261.5h1M542 262.5h1M563 262.5h1M543 263.5h1M563 263.5h1M543 264.5h1M563 264.5h1M543 265.5h1M563 265.5h1M543 266.5h1M562 266.5h1M543 267.5h1M562 267.5h1M543 268.5h1M562 268.5h1M544 269.5h1M562 269.5h1M544 270.5h1M562 270.5h1M544 271.5h1M562 271.5h1M544 272.5h1M562 272.5h1M544 273.5h1M561 273.5h1M544 274.5h1M561 274.5h1M545 275.5h1M561 275.5h1M545 276.5h1M561 276.5h1M545 277.5h1M561 277.5h1M545 278.5h1M561 278.5h1M545 279.5h1M561 279.5h1M545 280.5h1M561 280.5h1M546 281.5h1M560 281.5h1M546 282.5h1M560 282.5h1M546 283.5h1M560 283.5h1M546 284.5h1M560 284.5h1M546 285.5h1M560 285.5h1M547 286.5h1M560 286.5h1M547 287.5h1M560 287.5h1M547 288.5h1M559 288.5h1M547 289.5h1M559 289.5h1M547 290.5h1M559 290.5h1M547 291.5h1M559 291.5h1M548 292.5h1M559 292.5h1M548 293.5h1M559 293.5h1M548 294.5h1M559 294.5h1M548 295.5h1M559 295.5h1M548 296.5h1M558 296.5h1M548 297.5h1M558 297.5h1M549 298.5h1M558 298.5h1M549 299.5h1M558 299.5h1M549 300.5h1M558 300.5h1M549 301.5h1M558 301.5h1M549 302.5h1M558 302.5h1M549 303.5h1M557 303.5h1M550 304.5h1M557 304.5h1M550 305.5h1M557 305.5h1M550 306.5h1M557 306.5h1M550 307.5h1M557 307.5h1M550 308.5h1M557 308.5h1M551 309.5h1M557 309.5h1M551 310.5h1M557 310.5h1M551 311.5h1M556 311.5h1M551 312.5h1M556 312.5h1M551 313.5h1M556 313.5h1M551 314.5h1M556 314.5h1M552 315.5h1M556 315.5h1M552 316.5h1M556 316.5h1M552 317.5h1M556 317.5h1M552 318.5h1M555 318.5h1M552 319.5h1M555 319.5h1M552 320.5h1M555 320.5h1M553 321.5h1M555 321.5h1M553 322.5h1M555 322.5h1M553 323.5h1M555 323.5h1M553 324.5h1M555 324.5h1M553 325.5h1M555 325.5h1M553 326.5h2M554 327.5h1M554 328.5h1M554 329.5h1" stroke="#ff0000"/>
<line x1="816" y1="72.5" x2="865" y2="72.5" stroke="#0000ff"/>
<line x1="816" y1="91.5" x2="865" y2="91.5" stroke="#ff0000"/>
<rect x="90.5" y="58.5" width="796" height="278" stroke="#000"/>
</g>
<text class="tk" x="75.3" y="339.5" text-anchor="end">0.4</text>
<text class="tk" x="75.3" y="304.5" text-anchor="end">0.5</text>
<text class="tk" x="75.3" y="270.5" text-anchor="end">0.6</text>
<text class="tk" x="75.3" y="235.5" text-anchor="end">0.7</text>
<text class="tk" x="75.3" y="200.5" text-anchor="end">0.8</text>
<text class="tk" x="75.3" y="165.5" text-anchor="end">0.9</text>
<text class="tk" x="75.3" y="131.5" text-anchor="end">1</text>
<text class="tk" x="74.6" y="96.5" text-anchor="end" letter-spacing="-0.4">1.1</text>
<text class="tk" x="74.6" y="61.5" text-anchor="end" letter-spacing="-0.4">1.2</text>
<text class="tk" x="802.6" y="76" text-anchor="end" letter-spacing="-0.6">NS</text>
<text class="tk" x="803.6" y="95" text-anchor="end">EW</text>
<text class="ttl" x="486.2" y="31.3" text-anchor="middle" xml:space="preserve"><tspan letter-spacing="-0.2">Gráfico</tspan><tspan dx="1.4">  APE / PGA</tspan></text>
<text class="tk" style="font-size:16.5px" transform="translate(17.3,221.8) rotate(-90)">cm/s<tspan dy="-5.4" font-size="13.2">2</tspan></text>
<text class="xl" transform="translate(86.3,347) rotate(90)">AATN</text>
<text class="xl" transform="translate(119.5,347) rotate(90)">AFRA</text>
<text class="xl" transform="translate(152.6,347) rotate(90)">AGRH</text>
<text class="xl" transform="translate(185.8,347) rotate(90)">ALCA</text>
<text class="xl" transform="translate(219.0,347) rotate(90)">AORT</text>
<text class="xl" transform="translate(252.1,347) rotate(90)">APMR</text>
<text class="xl" transform="translate(285.3,347) rotate(90)">ASRH</text>
<text class="xl" transform="translate(318.5,347) rotate(90)">ASRM</text>
<text class="xl" transform="translate(351.6,347) rotate(90)">CCDN</text>
<text class="xl" transform="translate(384.8,347) rotate(90)">CSLG</text>
<text class="xl" transform="translate(418.0,347) rotate(90)">GNAN</text>
<text class="xl" transform="translate(451.1,347) rotate(90)">PCOB</text>
<text class="xl" transform="translate(484.3,347) rotate(90)">PJAC</text>
<text class="xl" transform="translate(517.5,347) rotate(90)">PJCO</text>
<text class="xl" transform="translate(550.6,347) rotate(90)">PJCR</text>
<text class="xl" transform="translate(583.8,347) rotate(90)">PPQR</text>
<text class="xl" transform="translate(617.0,347) rotate(90)">SCNE</text>
<text class="xl" transform="translate(650.1,347) rotate(90)">SCOH</text>
<text class="xl" transform="translate(683.3,347) rotate(90)">SESC</text>
<text class="xl" transform="translate(716.5,347) rotate(90)">SFRA</text>
<text class="xl" transform="translate(749.6,347) rotate(90)">SIAC</text>
<text class="xl" transform="translate(782.8,347) rotate(90)">SLMA</text>
<text class="xl" transform="translate(816.0,347) rotate(90)">SPCH</text>
<text class="xl" transform="translate(849.1,347) rotate(90)">SPCL</text>
<text class="xl" transform="translate(882.3,347) rotate(90)">STCH</text>
</svg></body></html>
